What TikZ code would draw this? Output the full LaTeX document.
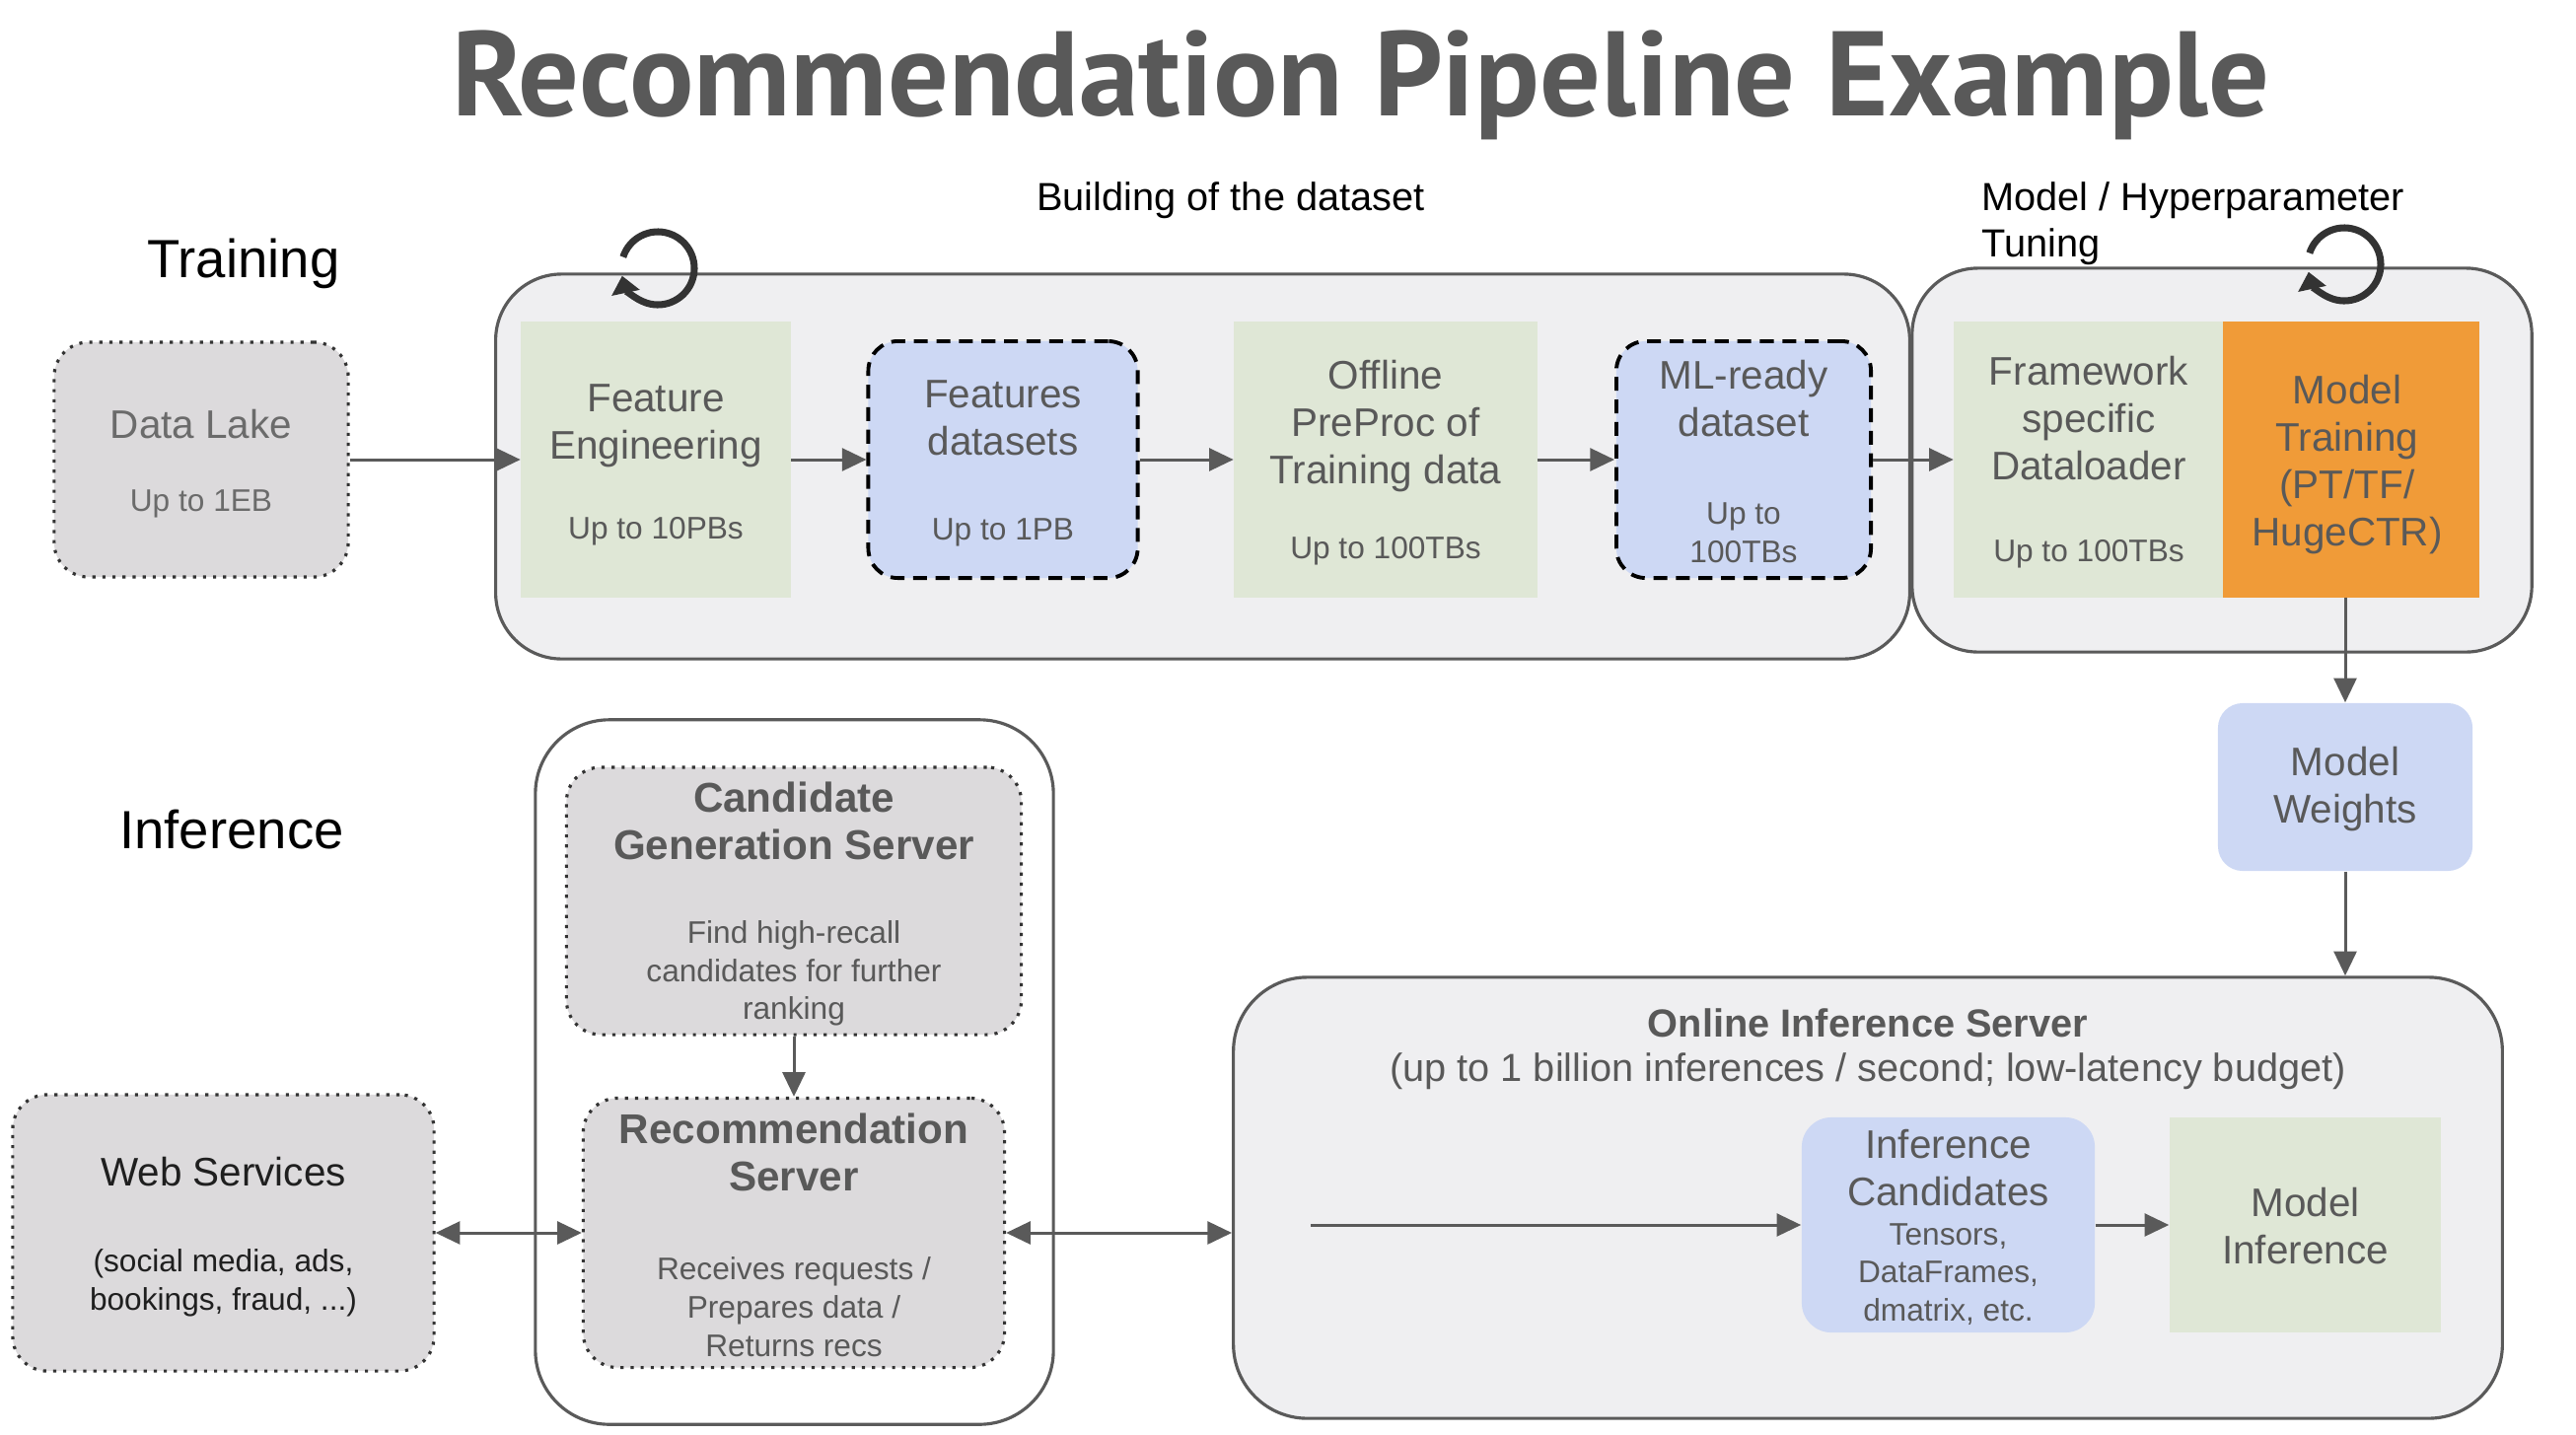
\documentclass[tikz,border=0pt]{standalone}
\usepackage{fontspec}
\setmainfont{Liberation Sans}
\newfontfamily\titlefont{PT Sans}
\usepackage{xcolor}
\usetikzlibrary{arrows.meta,positioning}
\definecolor{txtgray}{HTML}{595959}
\definecolor{linegray}{HTML}{5A5A5A}
\definecolor{boxgray}{HTML}{DCDADC}
\definecolor{contgray}{HTML}{EFEFF1}
\definecolor{boxgreen}{HTML}{DFE7D6}
\definecolor{boxblue}{HTML}{CDD8F4}
\definecolor{boxorange}{HTML}{F09B38}

\begin{document}
\begin{tikzpicture}[x=0.01cm, y=-0.01cm,
  cont/.style={draw=linegray, line width=0.9pt, fill=contgray, rounded corners=0.67cm, inner sep=0},
  green box/.style={fill=boxgreen, inner sep=0},
  blue box/.style={fill=boxblue, inner sep=0, rounded corners=0.3cm},
  dash box/.style={blue box, draw=black, line width=1.1pt, dash pattern=on 4pt off 2.5pt},
  dot box/.style={fill=boxgray, draw=black!80, line width=0.9pt, dotted, rounded corners=0.35cm, inner sep=0},
  big text/.style={align=center, text=txtgray, font=\fontsize{11.5}{13.7}\selectfont},
  small text/.style={align=center, text=txtgray, font=\fontsize{9}{11}\selectfont},
  bold text/.style={align=center, text=txtgray, font=\fontsize{12}{13.7}\selectfont\bfseries},
  side label/.style={font=\fontsize{15.5}{18}\selectfont},
  head label/.style={font=\fontsize{11.3}{13.3}\selectfont},
  arr/.style={draw=linegray, line width=0.85pt, -{Triangle[length=7pt,width=6.5pt]}},
  darr/.style={arr, {Triangle[length=7pt,width=6.5pt]}-{Triangle[length=7pt,width=6.5pt]}},
  loop icon/.style={draw=black!80, line width=2pt, -{Triangle[length=5pt,width=8pt]}}]
\useasboundingbox (0,0) rectangle (2612,1454);

% titles
\node[anchor=base, text=txtgray, font=\titlefont\fontsize{34.7}{40}\selectfont\bfseries] (title) at (1380,117) {Recommendation Pipeline Example};
\node[side label] (train) at (247,267) {Training};
\node[side label] (infer) at (235,841) {Inference};
\node[head label] (build) at (1248,203) {Building of the dataset};
\node[head label, anchor=west, align=left] (tune) at (1997,227) {Model / Hyperparameter\\Tuning};

% training
\node[cont, minimum width=14.33cm, minimum height=3.9cm] (c1) at (1219.5,473) {};
\node[cont, minimum width=6.28cm, minimum height=3.89cm] (c2) at (2253,466.5) {};

\node[dot box, minimum width=2.98cm, minimum height=2.38cm] (lake) at (204,466) {};
\node[big text, text=black!58] (lake-t) at (204,430) {Data Lake};
\node[small text, text=black!58] (lake-s) at (204,511) {Up to 1EB};

\node[green box, minimum width=2.73cm, minimum height=2.79cm] (fe) at (665,466) {};
\node[big text] (fe-t) at (665,432) {Feature\\Engineering};
\node[small text] (fe-s) at (665,539) {Up to 10PBs};

\node[dash box, minimum width=2.73cm, minimum height=2.4cm] (fd) at (1017,466) {};
\node[big text] (fd-t) at (1017,424) {Features\\datasets};
\node[small text] (fd-s) at (1017,540) {Up to 1PB};

\node[green box, minimum width=3.07cm, minimum height=2.79cm] (pre) at (1405,466) {};
\node[big text] (pre-t) at (1405,432) {Offline\\PreProc of\\Training data};
\node[small text] (pre-s) at (1405,559) {Up to 100TBs};

\node[dash box, minimum width=2.58cm, minimum height=2.4cm] (ml) at (1768,466) {};
\node[big text] (ml-t) at (1768,404) {ML-ready\\dataset};
\node[small text] (ml-s) at (1768,540) {Up to\\100TBs};

\node[green box, minimum width=2.73cm, minimum height=2.79cm] (dl) at (2118,466) {};
\node[big text] (dl-t) at (2118,424) {Framework\\specific\\Dataloader};
\node[small text] (dl-s) at (2118,562) {Up to 100TBs};

\node[fill=boxorange, inner sep=0, minimum width=2.6cm, minimum height=2.79cm] (mt) at (2384,466) {};
\node[big text] (mt-t) at (2380,471) {Model\\Training\\(PT/TF/\\HugeCTR)};

\node[blue box, rounded corners=0.25cm, minimum width=2.58cm, minimum height=1.7cm] (mw) at (2378,798) {};
\node[big text] (mw-t) at (2378,800) {Model\\Weights};

\coordinate (loop1) at (667,272);
\coordinate (loop2) at (2377,268);
\draw[loop icon] ([shift={(-162:37)}]loop1) arc[start angle=-162, end angle=168, radius=37];
\draw[loop icon] ([shift={(-162:37)}]loop2) arc[start angle=-162, end angle=168, radius=37];

% inference
\node[draw=linegray, line width=0.9pt, fill=white, rounded corners=0.75cm, minimum width=5.25cm, minimum height=7.14cm] (srv) at (805.5,1087) {};

\node[dot box, minimum width=4.61cm, minimum height=2.71cm] (cgs) at (805,913.5) {};
\node[bold text] (cgs-t) at (805,832) {Candidate\\Generation Server};
\node[small text] (cgs-s) at (805,987) {Find high-recall\\candidates for further\\ranking};

\node[dot box, minimum width=4.27cm, minimum height=2.73cm] (rs) at (805,1250) {};
\node[bold text] (rs-t) at (805,1168) {Recommendation\\Server};
\node[small text] (rs-s) at (805,1325) {Receives requests /\\Prepares data /\\Returns recs};

\node[dot box, minimum width=4.27cm, minimum height=2.8cm] (web) at (226.5,1250) {};
\node[big text, text=black!88] (web-t) at (226.5,1188) {Web Services};
\node[small text, text=black!88] (web-s) at (226.5,1301) {(social media, ads,\\bookings, fraud, ...)};

\node[cont, rounded corners=0.75cm, minimum width=12.86cm, minimum height=4.47cm] (ois) at (1894,1214.5) {};
\node[bold text, font=\fontsize{11.3}{13.7}\selectfont\bfseries] (ois-t) at (1894,1037) {Online Inference Server};
\node[head label, text=txtgray] (ois-s) at (1894,1086) {(up to 1 billion inferences / second; low-latency budget)};

\node[blue box, minimum width=2.97cm, minimum height=2.18cm] (ic) at (1975.5,1242) {};
\node[big text] (ic-t) at (1975.5,1184) {Inference\\Candidates};
\node[small text] (ic-s) at (1975.5,1292) {Tensors,\\DataFrames,\\dmatrix, etc.};

\node[green box, minimum width=2.75cm, minimum height=2.18cm] (mi) at (2337.5,1242) {};
\node[big text] (mi-t) at (2337.5,1243) {Model\\Inference};

\coordinate (in) at (1329,1242);

% connectors
\draw[arr] (lake) -- (fe);
\draw[arr] (fe) -- (fd);
\draw[arr] (fd) -- (pre);
\draw[arr] (pre) -- (ml);
\draw[arr] (ml) -- (dl);
\draw[arr] (mw.north |- mt.south) -- (mw.north);
\draw[arr] (mw.south) -- (mw.south |- ois.north);
\draw[arr] (cgs) -- (rs);
\draw[darr] (web) -- (rs);
\draw[darr] (rs.east) -- (rs.east -| ois.west);
\draw[arr] (in) -- (ic);
\draw[arr] (ic) -- (mi);
\end{tikzpicture}
\end{document}
